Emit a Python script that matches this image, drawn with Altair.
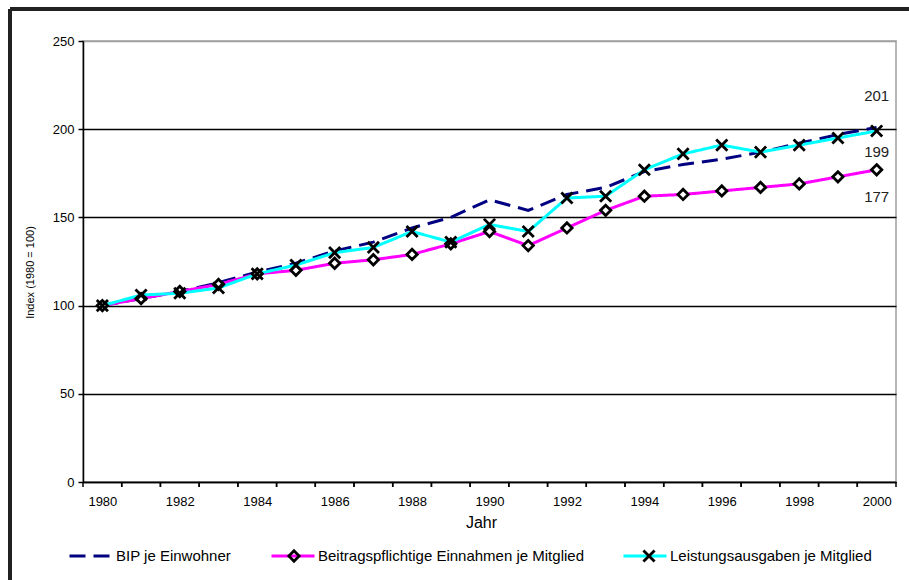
import altair as alt
import pandas as pd

years = list(range(1980, 2001))
bip = [100, 104, 108, 113, 119, 124, 131, 136, 144, 150, 160, 154, 163, 167, 176, 180, 183, 187, 192, 197, 201]
beitrag = [100, 104, 108, 112, 118, 120, 124, 126, 129, 135, 142, 134, 144, 154, 162, 163, 165, 167, 169, 173, 177]
leistung = [100, 106, 107, 110, 118, 123, 130, 133, 142, 136, 146, 142, 161, 162, 177, 186, 191, 187, 191, 195, 199]

series_names = ["BIP je Einwohner", "Beitragspflichtige Einnahmen je Mitglied", "Leistungsausgaben je Mitglied"]
marker_codes = ["m0", "m1", "m2"]
series_colors = ["#000080", "#FF00FF", "#00FFFF"]
y_ticks = [0, 50, 100, 150, 200, 250]
x_labels = list(range(1980, 2001, 2))

rows = []
for name, code, vals in zip(series_names, marker_codes, [bip, beitrag, leistung]):
    for yr, v in zip(years, vals):
        rows.append({"year": yr, "value": v, "series": name, "marker": code})
df = pd.DataFrame(rows)
years_df = pd.DataFrame({"year": years})

FONT = "Liberation Sans"
W, H = 813, 441

x_scale = alt.Scale(domain=[1979.5, 2000.5], nice=False, zero=False)
y_scale = alt.Scale(domain=[0, 250], nice=False)

x_enc = alt.X("year:Q", scale=x_scale,
              axis=alt.Axis(values=x_labels, format="d", tickSize=0, labelPadding=13,
                            grid=False, domainColor="black", domainWidth=1.5,
                            labelFont=FONT, labelFontSize=13, labelColor="black",
                            title="Jahr", titleFont=FONT, titleFontSize=16,
                            titleFontWeight="normal", titleColor="black",
                            titleX=398, titleY=40, titleBaseline="middle"))
y_enc = alt.Y("value:Q", scale=y_scale,
              axis=alt.Axis(values=y_ticks, tickSize=5, tickColor="black", tickWidth=1.5,
                            labelPadding=4, domainColor="black", domainWidth=1.5,
                            grid=True,
                            gridColor={"condition": {"test": "datum.value === 250", "value": "#a0a0a0"},
                                       "value": "black"},
                            gridWidth=1.4, gridOpacity=1,
                            labelFont=FONT, labelFontSize=13, labelColor="black",
                            title="Index (1980 = 100)", titleFont=FONT, titleFontSize=11,
                            titleFontWeight="normal", titleColor="black",
                            titleX=-53, titleY=231, titleBaseline="middle", titleAngle=-90))

LEG_Y = 492
line_legend = alt.Legend(title=None, orient="none", legendX=-15, legendY=LEG_Y,
                         direction="horizontal", columns=3, columnPadding=33,
                         symbolSize=1849, labelFont=FONT, labelFontSize=15,
                         labelOffset=2, labelLimit=500,
                         symbolType="stroke", symbolStrokeWidth=3, labelColor="black")


def marker_legend(leg_x):
    return alt.Legend(title=None, orient="none", legendX=leg_x, legendY=LEG_Y,
                      symbolSize=1849, symbolStrokeWidth=2.8, symbolStrokeColor="black",
                      symbolOpacity=1, labelExpr="''", labelFontSize=1, labelOffset=0)


MARK_SIZE = 1849
diamond_path = "M0,-0.24L0.24,0L0,0.24L-0.24,0Z"
cross_path = "M-0.26,-0.26L0.26,0.26M-0.26,0.26L0.26,-0.26"

base = alt.Chart(df)

lines = base.mark_line(strokeWidth=3).encode(
    x=x_enc,
    y=y_enc,
    color=alt.Color("series:N", scale=alt.Scale(domain=series_names, range=series_colors),
                    legend=line_legend),
    strokeDash=alt.StrokeDash("series:N",
                              scale=alt.Scale(domain=series_names, range=[[16, 8], [1, 0], [1, 0]]),
                              legend=line_legend),
)

pink_pts = base.transform_filter(alt.datum.marker == marker_codes[1])
diamond_fill = pink_pts.mark_point(
    shape=diamond_path, filled=True, color="white", strokeWidth=0, size=MARK_SIZE, opacity=1
).encode(x="year:Q", y="value:Q")

diamonds = pink_pts.mark_point(
    filled=False, color="black", strokeWidth=2.8, size=MARK_SIZE, opacity=1
).encode(
    x="year:Q", y="value:Q",
    shape=alt.Shape("marker:N", scale=alt.Scale(domain=[marker_codes[1]], range=[diamond_path]),
                    legend=marker_legend(188)),
)

crosses = base.transform_filter(alt.datum.marker == marker_codes[2]).mark_point(
    filled=False, color="black", strokeWidth=2.8, size=MARK_SIZE, opacity=1
).encode(
    x="year:Q", y="value:Q",
    shape=alt.Shape("marker:N", scale=alt.Scale(domain=[marker_codes[2]], range=[cross_path]),
                    legend=marker_legend(543)),
)

last = base.transform_filter(alt.datum.year == 2000)
lab_bip = last.transform_filter(alt.datum.series == series_names[0]).mark_text(
    font=FONT, fontSize=15, color="#222", dy=-31, baseline="middle", align="center"
).encode(x="year:Q", y="value:Q", text=alt.Text("value:Q", format="d"))
lab_lei = last.transform_filter(alt.datum.series == series_names[2]).mark_text(
    font=FONT, fontSize=15, color="#222", dy=21, baseline="middle", align="center"
).encode(x="year:Q", y="value:Q", text=alt.Text("value:Q", format="d"))
lab_bei = last.transform_filter(alt.datum.series == series_names[1]).mark_text(
    font=FONT, fontSize=15, color="#222", dy=27, baseline="middle", align="center"
).encode(x="year:Q", y="value:Q", text=alt.Text("value:Q", format="d"))

tick_base = alt.Chart(years_df)
ticks_a = tick_base.transform_calculate(b="datum.year - 0.5").mark_rule(
    color="black", strokeWidth=1.5
).encode(x=alt.X("b:Q", scale=x_scale), y=alt.value(H), y2=alt.value(H + 5))
ticks_b = tick_base.transform_calculate(b="datum.year + 0.5").mark_rule(
    color="black", strokeWidth=1.5
).encode(x=alt.X("b:Q", scale=x_scale), y=alt.value(H), y2=alt.value(H + 5))

frame_top = alt.Chart(years_df).mark_rule(color="#222", strokeWidth=2.5).encode(
    x=alt.value(-73), x2=alt.value(900), y=alt.value(-32))
frame_left = alt.Chart(years_df).mark_rule(color="#222", strokeWidth=2.5).encode(
    x=alt.value(-73), y=alt.value(-32), y2=alt.value(600))

chart = alt.layer(
    frame_top, frame_left, lines, diamond_fill, diamonds, crosses,
    ticks_a, ticks_b, lab_bip, lab_lei, lab_bei
).resolve_scale(shape="independent").resolve_legend(shape="independent").properties(
    width=W, height=H,
    autosize=alt.AutoSizeParams(type="none"),
    padding={"left": 83, "top": 41, "right": 13, "bottom": 98},
    background="white",
).configure_view(stroke="#a0a0a0", strokeWidth=1.5)

chart.save("out.html", embed_options={"renderer": "svg", "actions": False})
